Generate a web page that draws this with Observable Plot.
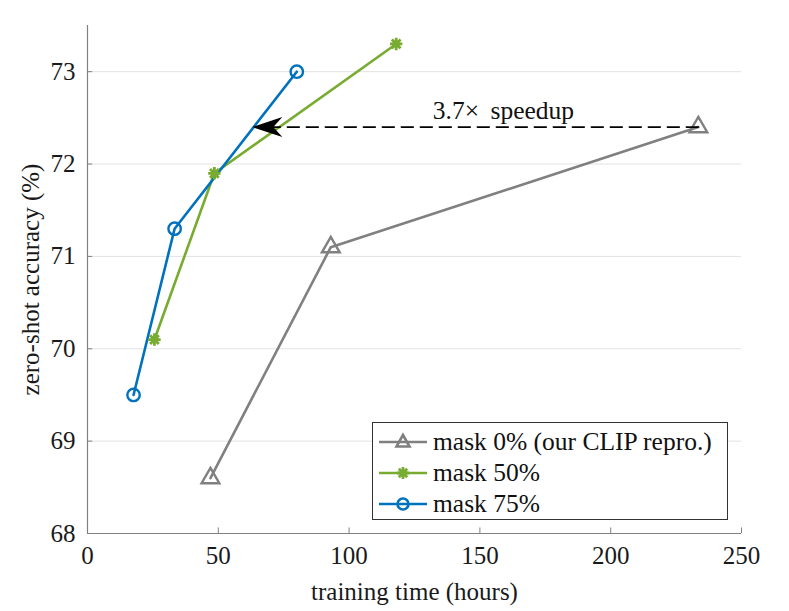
<!DOCTYPE html>
<html><head><meta charset="utf-8">
<script src="https://cdn.jsdelivr.net/npm/d3@7"></script>
<script src="https://cdn.jsdelivr.net/npm/@observablehq/plot@0.6"></script>
<style>
body{margin:0;background:#fff;}
#wrap{position:relative;width:789px;height:611px;font-family:"Liberation Serif","DejaVu Serif",serif;}
#legend{position:absolute;left:372px;top:422px;width:354px;height:96px;border:1px solid #333;background:#fff;box-sizing:content-box;}
.row{position:absolute;left:0;height:31px;display:flex;align-items:center;font-size:25.5px;color:#111;white-space:nowrap;}
.row svg{margin-left:6px;margin-right:6px;}
</style>
</head><body>
<div id="wrap"><div id="chart"></div><div id="legend"></div></div>
<script>
// data
const series = ["mask 0% (our CLIP repro.)", "mask 50%", "mask 75%"];
const colors = ["#808080", "#77AC30", "#0072BD"];
const hours0 = [47, 93, 233.5];
const acc0 = [68.6, 71.1, 72.4];
const hours50 = [25.6, 48.5, 118];
const acc50 = [70.1, 71.9, 73.3];
const hours75 = [17.6, 33.3, 80];
const acc75 = [69.5, 71.3, 73.0];
const xTicks = [0, 50, 100, 150, 200, 250];
const yTicks = [68, 69, 70, 71, 72, 73];
const arrowFrom = [233.5, 72.4];
const arrowTo = [63, 72.4];
const annotText = "3.7×\u2009 speedup";
const annotPos = [159, 72.58];

const rows = [];
[[hours0, acc0], [hours50, acc50], [hours75, acc75]].forEach(([h, a], i) => {
  h.forEach((v, j) => rows.push({s: series[i], i, x: v, y: a[j]}));
});

const arrowHead = {
  draw(ctx, size) {
    ctx.moveTo(0, 0);
    ctx.lineTo(30, -10);
    ctx.lineTo(21, 0);
    ctx.lineTo(30, 10);
    ctx.closePath();
  }
};
const star8 = {
  draw(ctx, size) {
    const r = Math.sqrt(size / Math.PI), d = r * Math.SQRT1_2;
    ctx.moveTo(-r, 0); ctx.lineTo(r, 0);
    ctx.moveTo(0, -r); ctx.lineTo(0, r);
    ctx.moveTo(-d, -d); ctx.lineTo(d, d);
    ctx.moveTo(-d, d); ctx.lineTo(d, -d);
  }
};
const symbols = ["triangle", star8, "circle"];
const radii = [6.6, 6.2, 6.2];

const font = '"Liberation Serif","DejaVu Serif",serif';
const chart = Plot.plot({
  width: 789, height: 611,
  marginLeft: 87, marginRight: 48, marginTop: 25, marginBottom: 78,
  style: {fontFamily: font, fontSize: "25px", color: "#1a1a1a", background: "#fff"},
  x: {type: "linear", domain: [0, 250], ticks: xTicks},
  y: {type: "linear", domain: [68, 73.5], ticks: yTicks},
  marks: [
    Plot.gridY(yTicks.slice(1), {stroke: "#e3e3e3", strokeOpacity: 1, strokeWidth: 1}),
    Plot.axisX(xTicks, {tickSize: 0, tickPadding: 13, fontSize: 25, tickFormat: d3.format("d"), label: "training time (hours)", labelAnchor: "center", labelArrow: "none", labelOffset: 66}),
    Plot.axisY(yTicks, {tickSize: 0, tickPadding: 12, fontSize: 25, tickFormat: d3.format("d"), label: "zero-shot accuracy (%)", labelAnchor: "center", labelArrow: "none", labelOffset: 66}),
    Plot.ruleX(xTicks, {x: d => d, y1: 68, y2: 68.06, stroke: "#808080"}),
    Plot.ruleY(yTicks, {y: d => d, x1: 0, x2: 2, stroke: "#808080"}),
    Plot.ruleY([68], {stroke: "#808080", strokeWidth: 1.2}),
    Plot.ruleX([0], {y1: 68, y2: 73.5, stroke: "#808080", strokeWidth: 1.2}),
    Plot.line(rows, {x: "x", y: "y", z: "s", stroke: d => colors[d.i], strokeWidth: 2.6}),
    ...[0, 1, 2].map(i => Plot.dot(rows.filter(d => d.i === i), {x: "x", y: "y", symbol: symbols[i], stroke: colors[i], fill: "none", strokeWidth: i === 1 ? 2.8 : 2.4, r: radii[i]})),
    Plot.line([arrowFrom, [arrowTo[0] + 2.5, arrowTo[1]]], {x: d => d[0], y: d => d[1], stroke: "#000", strokeWidth: 1.6, strokeDasharray: "12,7"}),
    Plot.dot([arrowTo], {x: d => d[0], y: d => d[1], symbol: arrowHead, fill: "#000", stroke: "none", r: 5}),
    Plot.text([annotText], {x: annotPos[0], y: annotPos[1], text: d => d, fontSize: 25.5, fill: "#111"})
  ]
});
document.getElementById("chart").appendChild(chart);

// legend
const leg = document.getElementById("legend");
const symSvg = [
  '<path d="M0,-7 L6.5,4.5 L-6.5,4.5 Z" fill="none"/>',
  '<path d="M-6,0 H6 M0,-6 V6 M-4.2,-4.2 L4.2,4.2 M-4.2,4.2 L4.2,-4.2" fill="none" stroke-width="2.8"/>',
  '<circle r="5.5" fill="none"/>'
];
series.forEach((s, i) => {
  const div = document.createElement("div");
  div.className = "row";
  div.style.top = (3 + i * 31) + "px";
  div.innerHTML = `<svg width="48" height="24" viewBox="-24 -12 48 24"><g stroke="${colors[i]}" stroke-width="2.6"><line x1="-24" x2="24" y1="0" y2="0"/>${symSvg[i]}</g></svg><span>${s}</span>`;
  leg.appendChild(div);
});
</script>
</body></html>
